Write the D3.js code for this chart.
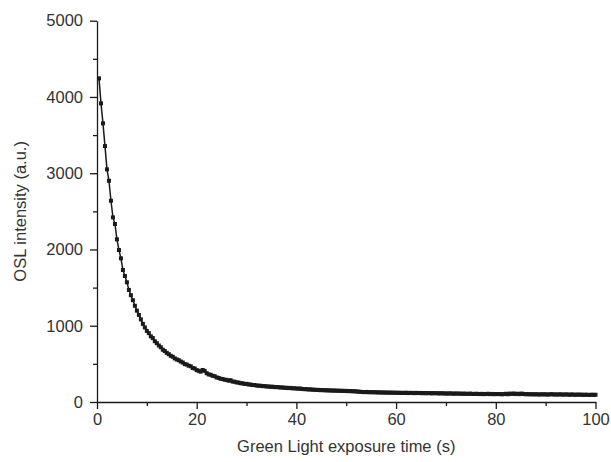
<!DOCTYPE html>
<html>
<head>
<meta charset="utf-8">
<script src="https://cdn.jsdelivr.net/npm/d3@7"></script>
<style>
  body { margin: 0; background: #fff; }
  text { font-family: "Liberation Sans", Arial, sans-serif; }
</style>
</head>
<body>
<div id="chart"></div>
<script>
// OSL decay curve, one reading every 0.4 s channel
const channelWidth = 0.4;

const intensity = [
  4244, 3916, 3654, 3356, 3051, 2901, 2639, 2421, 2334, 2133,
  1993, 1884, 1731, 1652, 1570, 1470, 1400, 1335, 1262, 1198,
  1142, 1083, 1025, 978, 932, 903, 861, 838, 797, 772,
  741, 718, 686, 668, 644, 627, 606, 593, 572, 558,
  548, 531, 518, 497, 491, 476, 468, 446, 439, 418,
  409, 398, 420, 408, 378, 362, 357, 343, 338, 322,
  316, 305, 301, 292, 290, 279, 286, 268, 266, 257,
  255, 246, 245, 237, 238, 230, 229, 222, 223, 216,
  214, 213, 208, 209, 203, 204, 199, 201, 195, 196,
  194, 190, 191, 186, 187, 182, 185, 179, 181, 177,
  175, 176, 171, 168, 169, 164, 166, 161, 162, 158,
  159, 155, 157, 153, 155, 151, 153, 149, 151, 148,
  149, 146, 148, 144, 146, 142, 144, 140, 142, 138,
  136, 134, 131, 129, 132, 128, 130, 127, 129, 126,
  127, 124, 126, 123, 125, 122, 124, 121, 123, 120,
  122, 119, 121, 118, 122, 117, 120, 119, 116, 120,
  117, 119, 115, 118, 114, 117, 116, 113, 117, 114,
  115, 112, 116, 111, 113, 110, 114, 111, 109, 112,
  109, 111, 107, 110, 108, 106, 110, 107, 105, 108,
  106, 104, 107, 103, 105, 108, 103, 106, 102, 105,
  103, 105, 101, 104, 108, 102, 110, 106, 112, 104,
  109, 103, 111, 105, 101, 104, 100, 103, 99, 102,
  100, 98, 102, 99, 101, 97, 100, 103, 98, 100,
  97, 101, 99, 96, 100, 98, 95, 99, 97, 94,
  98, 95, 97, 93, 96, 94, 92, 96, 93, 95
];

const xTicks = [0, 20, 40, 60, 80, 100];
const yTicks = [0, 1000, 2000, 3000, 4000, 5000];
const xMinor = [10, 30, 50, 70, 90];
const yMinor = [500, 1500, 2500, 3500, 4500];

const xTitle = "Green Light exposure time (s)";
const yTitle = "OSL intensity (a.u.)";

const data = intensity.map((v, i) => ({ t: (i + 1) * channelWidth, v: v }));

// constants
const width = 611;
const height = 462;
const margin = { top: 20.7, right: 15.5, bottom: 60, left: 97 };
const innerWidth = width - margin.left - margin.right;
const innerHeight = height - margin.top - margin.bottom;

const ink = "#1a1a1a";
const fontSize = "16.5px";

// scales
const xScale = d3.scaleLinear().domain([0, 100]).range([0, innerWidth]);
const yScale = d3.scaleLinear().domain([0, 5000]).range([innerHeight, 0]);

const svg = d3.select("#chart").append("svg")
  .attr("width", width)
  .attr("height", height);

const g = svg.append("g")
  .attr("transform", `translate(${margin.left},${margin.top})`);

// minor ticks first
g.append("g")
  .attr("transform", `translate(0,${innerHeight})`)
  .call(d3.axisBottom(xScale).tickValues(xMinor).tickSize(4).tickFormat(""))
  .call(a => a.select(".domain").remove());
g.append("g")
  .call(d3.axisLeft(yScale).tickValues(yMinor).tickSize(4).tickFormat(""))
  .call(a => a.select(".domain").remove());

// major axes
g.append("g")
  .attr("transform", `translate(0,${innerHeight})`)
  .call(d3.axisBottom(xScale).tickValues(xTicks).tickFormat(d3.format("d"))
    .tickSize(7).tickSizeOuter(0).tickPadding(4));
g.append("g")
  .call(d3.axisLeft(yScale).tickValues(yTicks).tickFormat(d3.format("d"))
    .tickSize(7).tickSizeOuter(0).tickPadding(7));

g.selectAll(".domain, .tick line").attr("stroke", ink).attr("stroke-width", 1.3);
g.selectAll(".tick text").attr("fill", "#333").style("font-size", fontSize);

// line + square markers
const line = d3.line().x(d => xScale(d.t)).y(d => yScale(d.v));

g.append("path")
  .datum(data)
  .attr("fill", "none")
  .attr("stroke", ink)
  .attr("stroke-width", 1.5)
  .attr("d", line);

g.selectAll("rect.pt").data(data)
  .enter().append("rect")
  .attr("class", "pt")
  .attr("x", d => xScale(d.t) - 2)
  .attr("y", d => yScale(d.v) - 2)
  .attr("width", 4)
  .attr("height", 4)
  .attr("fill", ink);

// titles
svg.append("text")
  .attr("x", margin.left + innerWidth / 2)
  .attr("y", 452)
  .attr("text-anchor", "middle")
  .attr("fill", "#333")
  .style("font-size", fontSize)
  .text(xTitle);

svg.append("text")
  .attr("transform", `translate(26,${margin.top + innerHeight / 2}) rotate(-90)`)
  .attr("text-anchor", "middle")
  .attr("fill", "#333")
  .style("font-size", fontSize)
  .text(yTitle);
</script>
</body>
</html>
